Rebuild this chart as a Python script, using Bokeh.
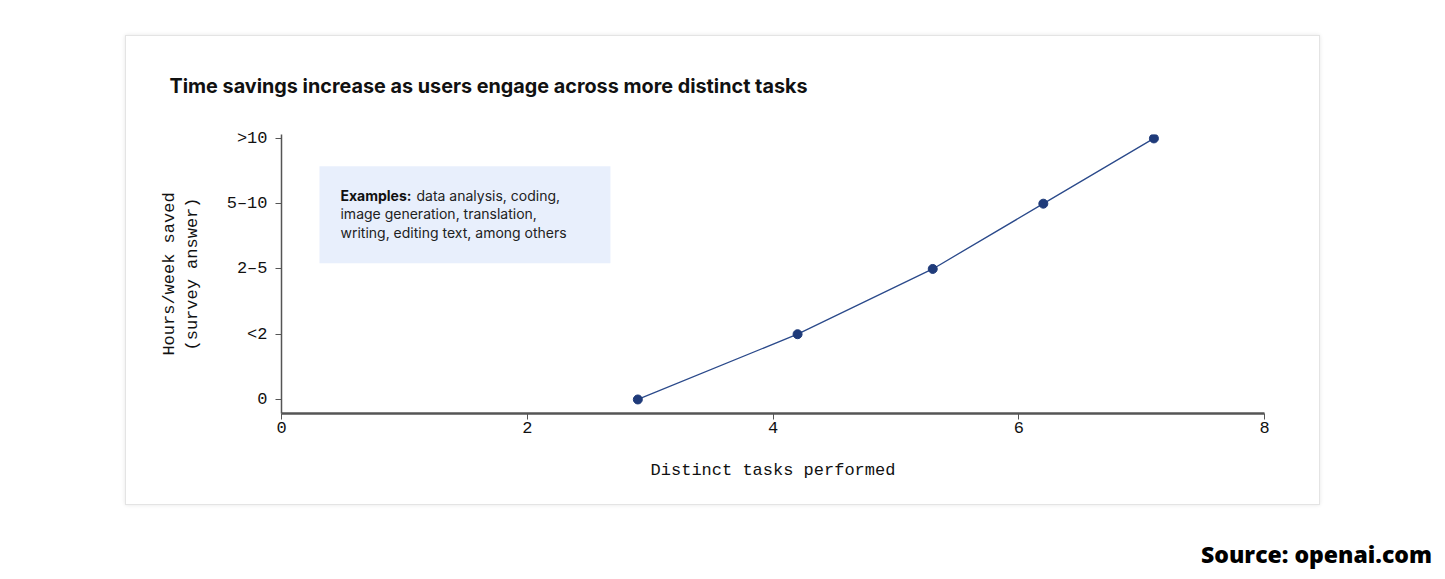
from bokeh.plotting import figure
from bokeh.models import Range1d, BoxAnnotation, Label, Div, FixedTicker
from bokeh.layouts import column
from bokeh.embed import file_html
from bokeh.resources import INLINE

# Data
tasks = [2.9, 4.2, 5.3, 6.2, 7.1]
hours_level = [0, 1, 2, 3, 4]
level_labels = ["0", "<2", "2–5", "5–10", ">10"]
x_ticks = [0, 2, 4, 6, 8]

title_text = "Time savings increase as users engage across more distinct tasks"
note_bold = "Examples:"
note_lines = ["data analysis, coding,", "image generation, translation,", "writing, editing text, among others"]

MONO = "Liberation Mono"
SANS = "Inter"

p = figure(width=1195, height=470, output_backend="svg", toolbar_location=None,
           x_range=Range1d(0, 8), y_range=Range1d(-0.215, 4.06),
           min_border_left=155, min_border_right=57, min_border_top=98, min_border_bottom=93)
p.margin = (35, 0, 0, 125)
p.styles = {"border": "1px solid #e4e4e4", "box-shadow": "0 0 4px rgba(0,0,0,0.10)"}
p.outline_line_color = None
p.background_fill_color = "white"
p.border_fill_color = "white"
p.xgrid.visible = False
p.ygrid.visible = False

p.title.text = title_text
p.title.text_font = SANS
p.title.text_font_size = "19.8px"
p.title.text_font_style = "bold"
p.title.text_color = "#111111"
p.title.align = "left"
p.title.vertical_align = "top"
p.title.offset = -112
p.title.standoff = 70

# axes
p.xaxis.ticker = FixedTicker(ticks=x_ticks)
p.yaxis.ticker = FixedTicker(ticks=hours_level)
p.yaxis.major_label_overrides = {i: s for i, s in zip(hours_level, level_labels)}
for ax in (p.xaxis[0], p.yaxis[0]):
    ax.major_label_text_font = MONO
    ax.major_label_text_font_size = "17px"
    ax.major_label_text_color = "#111111"
    ax.axis_label_text_font = MONO
    ax.axis_label_text_font_size = "17px"
    ax.axis_label_text_font_style = "normal"
    ax.axis_label_text_color = "#111111"
    ax.minor_tick_line_color = None
    ax.major_tick_in = 0
    ax.major_tick_out = 6
    ax.major_tick_line_color = "#555555"
    ax.axis_line_color = "#555555"
p.xaxis.axis_line_width = 2.5
p.yaxis.axis_line_width = 1.5
p.xaxis.axis_label = "Distinct tasks performed"
p.xaxis.axis_label_standoff = 25
p.xaxis.major_label_standoff = 2
p.yaxis.axis_label = "Hours/week saved\n(survey answer)"
p.yaxis.axis_label_standoff = 22
p.yaxis.major_label_standoff = 8

# annotation box
box = BoxAnnotation(left=0.309, right=2.677, top=3.574, bottom=2.086,
                    fill_color="#e8effc", fill_alpha=1.0, line_color=None, level="underlay")
p.add_layout(box)

line_y = [3.13, 2.848, 2.565]
lab_b = Label(x=0.48, y=line_y[0], text=note_bold, text_font=SANS, text_font_size="14px",
              text_font_style="bold", text_color="#111111", text_baseline="middle")
p.add_layout(lab_b)
first = Label(x=0.48, y=line_y[0], x_offset=76, text=note_lines[0], text_font=SANS,
              text_font_size="14px", text_color="#222222", text_baseline="middle")
p.add_layout(first)
for yy, t in zip(line_y[1:], note_lines[1:]):
    p.add_layout(Label(x=0.48, y=yy, text=t, text_font=SANS, text_font_size="14px",
                       text_color="#222222", text_baseline="middle"))

# series
p.line(tasks, hours_level, line_color="#2b4a8b", line_width=1.3)
p.scatter(tasks, hours_level, size=9, fill_color="#1f3b7a", line_color="#1f3b7a")

src = Div(text="Source: openai.com", width=280, height=32,
          styles={"font-family": "Open Sans", "font-weight": "800", "font-size": "23px",
                  "text-align": "right", "color": "#000", "white-space": "nowrap"})
src.margin = (33, 0, 0, 1152)

layout = column(p, src)
open("out.html", "w").write(file_html(layout, INLINE))
